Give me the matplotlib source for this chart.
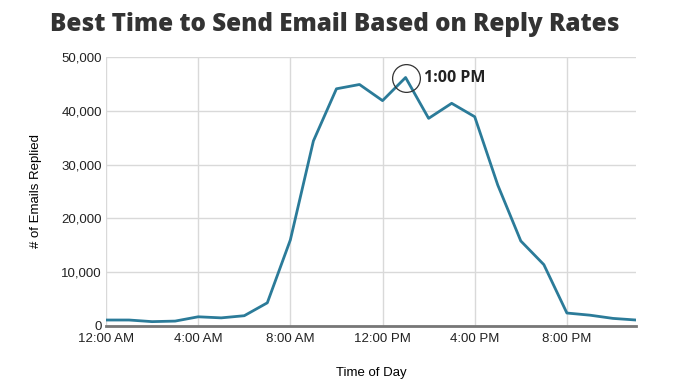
import matplotlib.pyplot as plt
from matplotlib.ticker import FuncFormatter

horas = list(range(24))
respuestas = [1100, 1100, 800, 900, 1700, 1500, 1900, 4300, 16000, 34400,
              44100, 44900, 41900, 46200, 38600, 41400, 38900, 26200,
              15800, 11400, 2400, 2000, 1400, 1100]
ticks_x = [0, 4, 8, 12, 16, 20]
etiquetas_x = ['12:00 AM', '4:00 AM', '8:00 AM', '12:00 PM', '4:00 PM', '8:00 PM']
ticks_y = [0, 10000, 20000, 30000, 40000, 50000]
hora_pico = 13

fig = plt.figure(figsize=(6.87, 3.83), dpi=100)
ax = fig.add_axes([0.1543, 0.149, 0.7715, 0.702])

ax.plot(horas, respuestas, color='#2b7b99', linewidth=2, zorder=3)

pico = respuestas[horas.index(hora_pico)]
ax.plot([hora_pico], [pico], marker='o', markersize=20, markerfacecolor='none',
        markeredgecolor='#333333', markeredgewidth=0.9, zorder=4)
ax.annotate('1:00 PM', xy=(hora_pico, pico), xytext=(13, 0), textcoords='offset points',
            fontsize=11.5, fontweight='bold', family='Open Sans', color='#222222',
            va='center', ha='left')

ax.set_xlim(0, 23)
ax.set_ylim(0, 50000)
ax.set_xticks(ticks_x)
ax.set_xticklabels(etiquetas_x)
ax.set_yticks(ticks_y)
ax.yaxis.set_major_formatter(FuncFormatter(lambda v, p: f'{int(v):,}'))

ax.grid(True, color='#d9d9d9', linewidth=1)
ax.set_axisbelow(True)
for lado in ['top', 'right', 'left']:
    ax.spines[lado].set_visible(False)
ax.spines['bottom'].set_color('#777777')
ax.spines['bottom'].set_linewidth(2)
ax.tick_params(length=0, pad=3, labelsize=9.5, colors='#222222')
ax.tick_params(axis='x', pad=5)
for t in ax.get_xticklabels() + ax.get_yticklabels():
    t.set_family('Liberation Sans')

ax.set_xlabel('Time of Day', family='Liberation Sans', fontsize=9.5, labelpad=16)
ax.set_ylabel('# of Emails Replied', family='Liberation Sans', fontsize=9.5, labelpad=14)

fig.text(0.487, 0.935, 'Best Time to Send Email Based on Reply Rates', ha='center', va='center',
         family='Open Sans', fontweight='heavy', fontsize=17.5, color='#333333')

fig.savefig('out.png', dpi=100)
